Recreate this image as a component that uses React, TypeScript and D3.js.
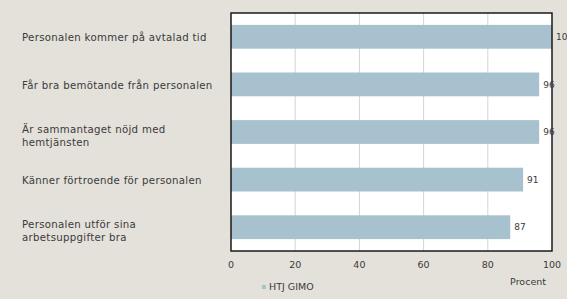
import React from 'react';
import * as d3 from 'd3';

const categories = [
  ['Personalen kommer på avtalad tid'],
  ['Får bra bemötande från personalen'],
  ['Är sammantaget nöjd med', 'hemtjänsten'],
  ['Känner förtroende för personalen'],
  ['Personalen utför sina', 'arbetsuppgifter bra'],
];
const values = [100, 96, 96, 91, 87];
const ticks = [0, 20, 40, 60, 80, 100];
const seriesName = 'HTJ GIMO';

const W = 567;
const H = 299;
const margin = { top: 13, right: 15, bottom: 48, left: 231 };
const font = "'DejaVu Sans', sans-serif";
const textColor = '#3a3a3a';

const App: React.FC = () => {
  const svgRef = React.useRef<SVGSVGElement | null>(null);

  React.useEffect(() => {
    const innerW = W - margin.left - margin.right;
    const innerH = H - margin.top - margin.bottom;
    const svg = d3.select(svgRef.current);
    svg.selectAll('*').remove();

    svg.append('rect').attr('width', W).attr('height', H).attr('fill', '#e3e1da');

    const g = svg.append('g').attr('transform', `translate(${margin.left},${margin.top})`);

    const x = d3.scaleLinear().domain([0, 100]).range([0, innerW]);
    const idx = categories.map((_, i) => String(i));
    const y = d3.scaleBand<string>().domain(idx).range([0, innerH]).paddingInner(0.5).paddingOuter(0.25);

    g.append('rect').attr('width', innerW).attr('height', innerH).attr('fill', '#ffffff');

    g.selectAll('line.grid')
      .data(ticks.slice(1, -1))
      .join('line')
      .attr('class', 'grid')
      .attr('x1', (d) => x(d))
      .attr('x2', (d) => x(d))
      .attr('y1', 0)
      .attr('y2', innerH)
      .attr('stroke', '#d4d4d4')
      .attr('stroke-width', 1);

    g.selectAll('rect.bar')
      .data(values)
      .join('rect')
      .attr('class', 'bar')
      .attr('x', 0)
      .attr('y', (_, i) => y(String(i)) || 0)
      .attr('width', (d) => x(d))
      .attr('height', y.bandwidth())
      .attr('fill', '#a7c2ce');

    g.append('rect')
      .attr('width', innerW)
      .attr('height', innerH)
      .attr('fill', 'none')
      .attr('stroke', '#1a1a1a')
      .attr('stroke-width', 1.5);

    g.selectAll('text.val')
      .data(values)
      .join('text')
      .attr('class', 'val')
      .attr('x', (d) => x(d) + 4)
      .attr('y', (_, i) => (y(String(i)) || 0) + y.bandwidth() / 2)
      .attr('dy', '0.35em')
      .attr('font-family', font)
      .attr('font-size', 9)
      .attr('fill', textColor)
      .text((d) => d);

    const labels = svg.append('g');
    categories.forEach((lines, i) => {
      const cy = margin.top + (y(String(i)) || 0) + y.bandwidth() / 2;
      const start = lines.length > 1 ? cy - 3 : cy + 1;
      lines.forEach((ln, j) => {
        labels
          .append('text')
          .attr('x', 22)
          .attr('y', start + j * 13)
          .attr('dy', '0.35em')
          .attr('font-family', font)
          .attr('font-size', 10.2)
          .attr('letter-spacing', 0.3)
          .attr('fill', textColor)
          .text(ln);
      });
    });

    g.selectAll('text.tick')
      .data(ticks)
      .join('text')
      .attr('class', 'tick')
      .attr('x', (d) => x(d))
      .attr('y', innerH + 14)
      .attr('dy', '0.35em')
      .attr('text-anchor', 'middle')
      .attr('font-family', font)
      .attr('font-size', 9.5)
      .attr('fill', textColor)
      .text((d) => d);

    g.append('text')
      .attr('x', innerW - 6)
      .attr('y', innerH + 31)
      .attr('dy', '0.35em')
      .attr('text-anchor', 'end')
      .attr('font-family', font)
      .attr('font-size', 9.5)
      .attr('fill', textColor)
      .text('Procent');

    const lg = svg.append('g').attr('transform', `translate(262,${H - 12})`);
    lg.append('rect').attr('x', 0).attr('y', -2).attr('width', 4).attr('height', 4).attr('fill', '#a7c2ce');
    lg.append('text')
      .attr('x', 7)
      .attr('y', 0)
      .attr('dy', '0.35em')
      .attr('font-family', font)
      .attr('font-size', 9.5)
      .attr('fill', textColor)
      .text(seriesName);
  }, []);

  return (
    <svg
      ref={svgRef}
      width={W}
      height={H}
      style={{ position: 'absolute', left: 0, top: 0, display: 'block' }}
    />
  );
};

export default App;
